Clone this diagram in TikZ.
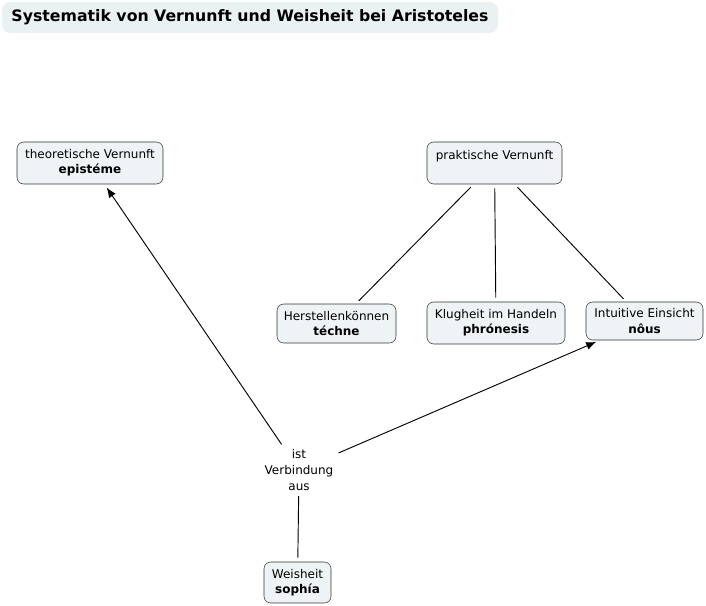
\documentclass[tikz,border=0pt]{standalone}
\usepackage{fontspec}
\setmainfont{DejaVu Sans}
\usetikzlibrary{arrows.meta,positioning}
\definecolor{boxfill}{HTML}{EEF3F5}
\definecolor{boxline}{HTML}{333333}
\definecolor{titlefill}{HTML}{EAF1F3}

\begin{document}
\begin{tikzpicture}[x=0.75pt,y=-0.75pt,>={Latex[length=7.5pt,width=6pt]},
    concept/.style={rounded corners=5pt,fill=boxfill,draw=boxline,align=center,font=\fontsize{9}{11.5}\selectfont,inner sep=0pt},
    linker/.style={align=center,font=\fontsize{9}{12}\selectfont,inner sep=1pt},
    conn/.style={line width=0.7pt,shorten <=3pt,shorten >=3pt}]
  \useasboundingbox (0,0) rectangle (706,606);
  % title
  \node[rounded corners=6pt,fill=titlefill,minimum width=496*0.75pt,minimum height=31*0.75pt,font=\bfseries\fontsize{11.8}{14}\selectfont] (title) at (250,17.5) {Systematik von Vernunft und Weisheit bei Aristoteles};
  % concepts
  \node[concept,minimum width=146*0.75pt,minimum height=42*0.75pt] (theo) at (90,163) {theoretische Vernunft\\\textbf{epistéme}};
  \node[concept,minimum width=135*0.75pt,minimum height=42*0.75pt,text depth=12pt] (prakt) at (494.5,163) {praktische Vernunft};
  \node[concept,minimum width=119*0.75pt,minimum height=39*0.75pt] (techne) at (336.5,323.5) {Herstellenkönnen\\\textbf{téchne}};
  \node[concept,minimum width=138*0.75pt,minimum height=42*0.75pt] (phron) at (496,323) {Klugheit im Handeln\\\textbf{phrónesis}};
  \node[concept,minimum width=117*0.75pt,minimum height=38*0.75pt] (nous) at (644.5,321) {Intuitive Einsicht\\\textbf{nôus}};
  \node[concept,minimum width=67*0.75pt,minimum height=41*0.75pt] (sophia) at (297.5,582.5) {Weisheit\\\textbf{sophía}};
  % linking phrase
  \node[linker] (link) at (299,470) {ist\\Verbindung\\aus};
  % connections
  \draw[conn] (prakt) -- (techne);
  \draw[conn] (prakt) -- (phron);
  \draw[conn] (prakt) -- (nous);
  \draw[conn] (sophia) -- (link);
  \draw[conn,->] (link) -- (theo);
  \draw[conn,->] (link) -- (nous);
\end{tikzpicture}
\end{document}
